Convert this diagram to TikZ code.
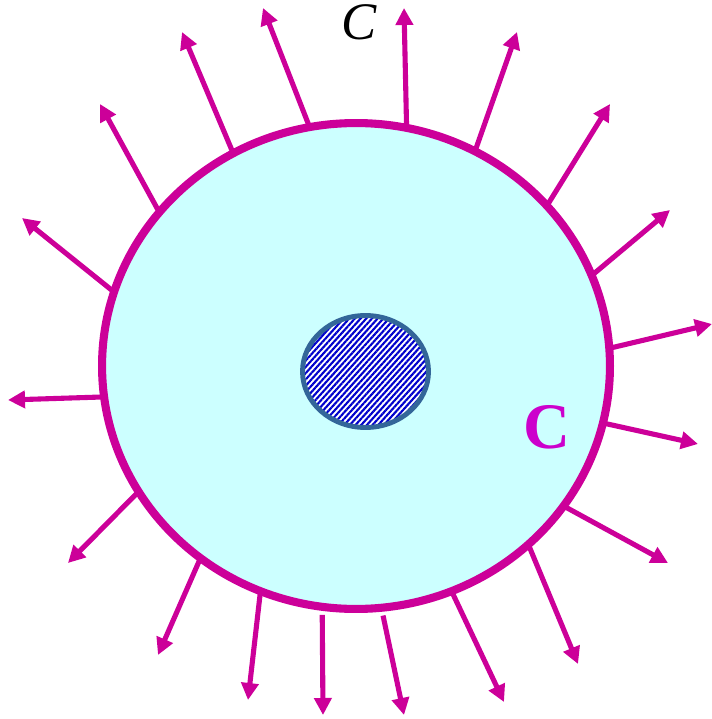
\documentclass[tikz,border=0pt]{standalone}
\usepackage{fontspec}
\setmainfont{Liberation Serif}
\usetikzlibrary{arrows.meta,shapes.geometric,patterns.meta}
\definecolor{wallpink}{HTML}{CC0099}
\definecolor{labelviolet}{HTML}{CC00CC}
\definecolor{cellcyan}{HTML}{CCFFFF}
\definecolor{nucedge}{HTML}{336699}
\definecolor{hatchblue}{HTML}{0000CC}

\tikzset{
  cellwall/.style={ellipse, draw=wallpink, line width=4.6pt, fill=cellcyan,
    inner sep=0pt, outer sep=0pt, minimum width=10.16cm, minimum height=9.72cm},
  nucleus/.style={ellipse, draw=nucedge, line width=2.8pt, fill=white,
    pattern={Lines[angle=48, distance=2.4pt, line width=1.2pt]}, pattern color=hatchblue,
    inner sep=0pt, outer sep=0pt, minimum width=2.52cm, minimum height=2.24cm},
  flux/.style={draw=wallpink, line width=2.9pt, -{Triangle[length=0.34cm, width=0.34cm]}}
}

\begin{document}
\begin{tikzpicture}[x=0.02cm, y=-0.02cm]
\useasboundingbox (0,0) rectangle (712,719);

% cell with nucleus
\node[cellwall] (cell) at (356,366) {};
\fill[white] (365.5,371.5) ellipse (1.26cm and 1.12cm);
\node[nucleus] (nuc) at (365.5,371.5) {};

% outward arrows
\foreach \a/\ex/\ey in {78.9/404/8, 101.8/263/8, 120.9/182/32, 142.5/100/104,
  163.4/22/218, 187.1/8/400, 210.1/68/563, 231.9/158/655, 247.3/248/700,
  293.3/504/702, 314.2/578/664, 326.4/668/563, 347.7/698/444, 4.0/712/324,
  21.4/670/210, 40.8/610/104, 61.9/517/32}
  \draw[flux] (cell.\a) -- (\ex,\ey);
\draw[flux, shorten <=0.16cm] (cell.262.5) -- (323,715);
\draw[flux, shorten <=0.16cm] (cell.276.8) -- (404,715);

% labels
\node[anchor=base, inner sep=0pt, font=\fontsize{30}{30}\selectfont\itshape] (ctop) at (359,40) {C};
\node[anchor=base, inner sep=0pt, text=labelviolet, font=\fontsize{37}{37}\selectfont\bfseries] (cin) at (547,448) {C};

\end{tikzpicture}
\end{document}
